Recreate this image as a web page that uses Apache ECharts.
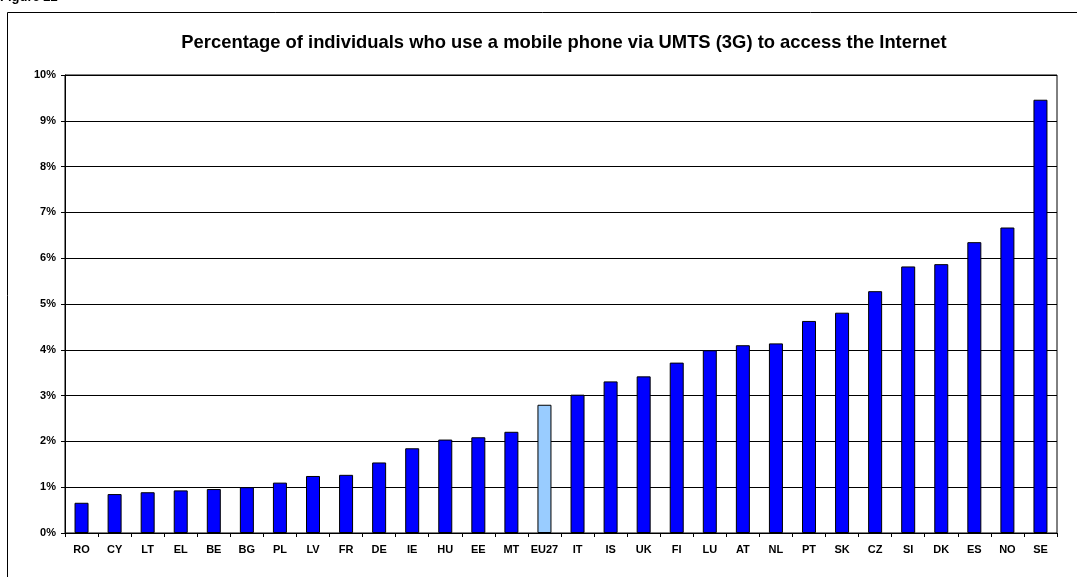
<!DOCTYPE html>
<html>
<head>
<meta charset="utf-8">
<script src="https://cdn.jsdelivr.net/npm/echarts@6/dist/echarts.min.js"></script>
<style>
  html, body { margin: 0; padding: 0; background: #fff; }
  #chart { width: 1077px; height: 577px; }
</style>
</head>
<body>
<div id="chart"></div>
<script>
// Countries, sorted by share of individuals using UMTS (3G) for mobile Internet access
const countries = ['RO','CY','LT','EL','BE','BG','PL','LV','FR','DE','IE','HU','EE','MT','EU27',
  'IT','IS','UK','FI','LU','AT','NL','PT','SK','CZ','SI','DK','ES','NO','SE'];
// Percentage of individuals (%)
const shares = [0.66, 0.85, 0.89, 0.93, 0.96, 1.0, 1.1, 1.245, 1.27, 1.54, 1.85, 2.04, 2.09, 2.21, 2.8,
  3.02, 3.31, 3.42, 3.72, 3.99, 4.1, 4.14, 4.63, 4.81, 5.28, 5.82, 5.87, 6.35, 6.67, 9.46];
const aggregate = 'EU27';
const yTicks = { min: 0, max: 10, step: 1 };

const font = 'Liberation Sans, Arial, sans-serif';
const chart = echarts.init(document.getElementById('chart'), null, { renderer: 'canvas' });

chart.setOption({
  animation: false,
  backgroundColor: '#fff',
  title: {
    text: 'Percentage of individuals who use a mobile phone via UMTS (3G) to access the Internet',
    left: 559, textAlign: 'center', top: 29,
    textStyle: { fontFamily: font, fontWeight: 'bold', fontSize: 18.4, color: '#000' }
  },
  graphic: [
    { type: 'rect', silent: true, shape: { x: 7.5, y: 12.5, width: 1200, height: 700 },
      style: { fill: 'none', stroke: '#000', lineWidth: 1 } },
    { type: 'text', silent: true, left: 0, top: -9,
      style: { text: 'Figure 22', font: 'bold 13px ' + font, fill: '#000' } }
  ],
  grid: { left: 65, right: 20, top: 75, bottom: 44, show: true,
    borderColor: '#000', borderWidth: 1, backgroundColor: 'transparent' },
  xAxis: {
    type: 'category', data: countries,
    axisLine: { lineStyle: { color: '#000', width: 1 } },
    axisTick: { show: true, length: 4, lineStyle: { color: '#000' } },
    axisLabel: { margin: 11, color: '#000', fontFamily: font, fontWeight: 'bold', fontSize: 11, interval: 0 }
  },
  yAxis: {
    type: 'value', min: yTicks.min, max: yTicks.max, interval: yTicks.step,
    axisLine: { show: true, lineStyle: { color: '#000', width: 1 } },
    axisTick: { show: true, length: 4, lineStyle: { color: '#000' } },
    axisLabel: { margin: 9, color: '#000', fontFamily: font, fontWeight: 'bold', fontSize: 11,
      formatter: '{value}%' },
    splitLine: { show: true, lineStyle: { color: '#000', width: 1 } }
  },
  series: [{
    type: 'bar', barWidth: 14,
    data: shares.map((v, i) => ({
      value: v,
      itemStyle: { color: countries[i] === aggregate ? '#99CCFF' : '#0000FF' }
    })),
    itemStyle: { borderColor: '#000', borderWidth: 1 }
  }]
});
</script>
</body>
</html>
